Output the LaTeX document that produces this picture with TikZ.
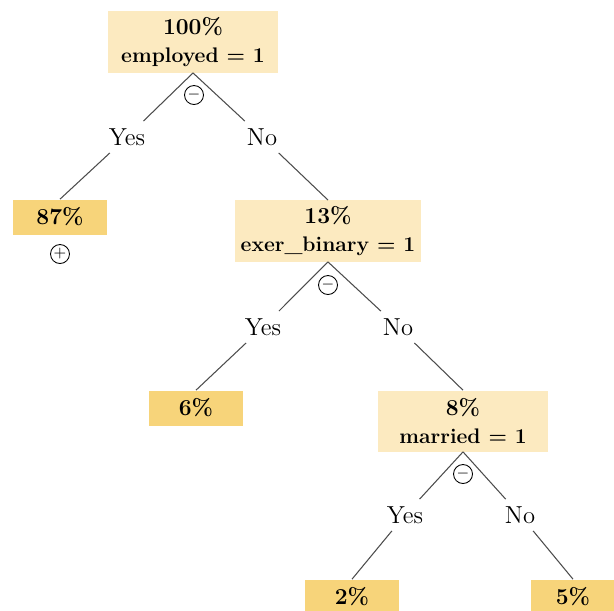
\documentclass[tikz,border=0pt]{standalone}
\usepackage{tikz}
\usetikzlibrary{positioning}

\definecolor{splitfill}{RGB}{252,234,192}
\definecolor{leaffill}{RGB}{247,212,122}

\newcommand{\splitrule}[1]{{\fontsize{12}{16}\selectfont #1}}

\begin{document}
\begin{tikzpicture}[
    x=0.02cm, y=-0.02cm,
    split/.style={rectangle, fill=splitfill, minimum width=3.4cm, minimum height=1.22cm, align=center, font=\fontsize{13}{16}\selectfont\bfseries},
    leaf/.style={rectangle, fill=leaffill, minimum width=1.9cm, minimum height=0.7cm, font=\fontsize{13}{16}\selectfont\bfseries},
    answer/.style={inner sep=4pt, font=\fontsize{14}{16}\selectfont},
    sign/.style={circle, draw, line width=0.5pt, minimum size=0.38cm, inner sep=0pt, font=\small},
    edge/.style={draw=black!70, line width=0.6pt}
]
\useasboundingbox (0,0) rectangle (614,610);

% Root
\node[split] (employed) at (193,42) {100\%\\\splitrule{employed = 1}};
\node[sign] (minusA) at (194,95) {$-$};
\node[answer] (yesA) at (127,137) {Yes};
\node[answer] (noA) at (262,137) {No};

% Left leaf
\node[leaf] (leafA) at (60,217) {87\%};
\node[sign] (plusA) at (60,254) {$+$};

% Second split
\node[split] (exer) at (328,231) {13\%\\\splitrule{exer\_binary = 1}};
\node[sign] (minusB) at (328,285) {$-$};
\node[answer] (yesB) at (263,327) {Yes};
\node[answer] (noB) at (398,327) {No};
\node[leaf] (leafB) at (196,408) {6\%};

% Third split
\node[split] (married) at (463,421) {8\%\\\splitrule{married = 1}};
\node[sign] (minusC) at (463,474) {$-$};
\node[answer] (yesC) at (405,515) {Yes};
\node[answer] (noC) at (520,515) {No};
\node[leaf] (leafC) at (352,597) {2\%};
\node[leaf, minimum width=1.7cm] (leafD) at (573,597) {5\%};

% Edges
\draw[edge] (employed.south) -- (yesA);
\draw[edge] (employed.south) -- (noA);
\draw[edge] (yesA) -- (leafA.north);
\draw[edge] (noA) -- (exer.north);

\draw[edge] (exer.south) -- (yesB);
\draw[edge] (exer.south) -- (noB);
\draw[edge] (yesB) -- (leafB.north);
\draw[edge] (noB) -- (married.north);

\draw[edge] (married.south) -- (yesC);
\draw[edge] (married.south) -- (noC);
\draw[edge] (yesC) -- (leafC.north);
\draw[edge] (noC) -- (leafD.north);
\end{tikzpicture}
\end{document}
